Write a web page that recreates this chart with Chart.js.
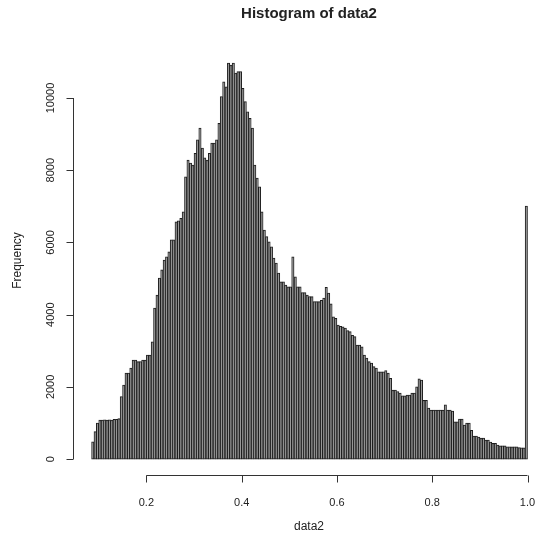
<!DOCTYPE html>
<html>
<head>
<meta charset="utf-8">
<script src="https://cdn.jsdelivr.net/npm/chart.js@4"></script>
<style>
  html, body { margin: 0; padding: 0; background: #fff; }
  #wrap { width: 538px; height: 542px; }
</style>
</head>
<body>
<div id="wrap"><canvas id="hist"></canvas></div>
<script>
// bins of width 0.005 starting at 0.085
const binStart = 0.085;
const binWidth = 0.005;
const counts = [
  480, 760, 1000, 1080, 1080, 1090, 1080, 1090, 1080, 1100,
  1100, 1120, 1730, 2050, 2380, 2380, 2520, 2740, 2740, 2700,
  2700, 2740, 2740, 2880, 2880, 3250, 4180, 4540, 5010, 5240,
  5510, 5600, 5740, 6070, 6070, 6570, 6600, 6670, 6850, 7820,
  8280, 8200, 8140, 8470, 8840, 9170, 8610, 8340, 8280, 8470,
  8750, 8750, 8840, 9300, 10040, 10450, 10310, 10970, 10910, 10970,
  10690, 10730, 10730, 10270, 9900, 9620, 9440, 9170, 8140, 7780,
  7540, 6850, 6340, 6160, 6020, 5880, 5570, 5430, 5150, 4910,
  4910, 4820, 4770, 4770, 5600, 5050, 4770, 4770, 4610, 4610,
  4540, 4500, 4500, 4360, 4360, 4360, 4400, 4460, 4760, 4600,
  4300, 3940, 3900, 3710, 3680, 3660, 3630, 3560, 3530, 3430,
  3390, 3160, 3160, 3110, 2880, 2800, 2700, 2660, 2560, 2520,
  2420, 2420, 2420, 2450, 2380, 2240, 1910, 1910, 1870, 1830,
  1750, 1750, 1770, 1770, 1830, 1830, 2000, 2220, 2190, 1630,
  1630, 1410, 1360, 1360, 1360, 1360, 1360, 1360, 1500, 1360,
  1360, 1330, 1030, 1030, 1110, 1110, 940, 1000, 1000, 800,
  640, 640, 610, 580, 580, 530, 530, 470, 440, 440,
  390, 370, 370, 370, 340, 340, 340, 340, 340, 320,
  310, 310, 7010
];
const xTicks = [0.2, 0.4, 0.6, 0.8, 1.0];
const yTicks = [0, 2000, 4000, 6000, 8000, 10000];

const points = counts.map((c, i) => ({ x: binStart + binWidth * (i + 0.5), y: c }));

const FONT = '"Liberation Sans", Arial, sans-serif';

// R-style detached axes, titles
const rAxes = {
  id: 'rAxes',
  afterDraw(chart) {
    const ctx = chart.ctx;
    const xs = chart.scales.x;
    const ys = chart.scales.y;
    const area = chart.chartArea;
    ctx.save();
    ctx.strokeStyle = '#333';
    ctx.fillStyle = '#222';
    ctx.lineWidth = 1;

    // x axis
    const xa = Math.round(area.bottom) + 0.5;
    ctx.beginPath();
    ctx.moveTo(xs.getPixelForValue(xTicks[0]), xa);
    ctx.lineTo(xs.getPixelForValue(xTicks[xTicks.length - 1]), xa);
    xTicks.forEach(t => {
      const px = Math.round(xs.getPixelForValue(t)) + 0.5;
      ctx.moveTo(px, xa);
      ctx.lineTo(px, xa + 7);
    });
    ctx.stroke();
    ctx.font = '11px ' + FONT;
    ctx.textAlign = 'center';
    ctx.textBaseline = 'middle';
    xTicks.forEach(t => {
      ctx.fillText(t.toFixed(1), xs.getPixelForValue(t), xa + 27);
    });

    // y axis
    const ya = Math.round(area.left) + 0.5;
    ctx.beginPath();
    ctx.moveTo(ya, ys.getPixelForValue(yTicks[0]));
    ctx.lineTo(ya, ys.getPixelForValue(yTicks[yTicks.length - 1]));
    yTicks.forEach(t => {
      const py = Math.round(ys.getPixelForValue(t)) + 0.5;
      ctx.moveTo(ya, py);
      ctx.lineTo(ya - 7, py);
    });
    ctx.stroke();
    yTicks.forEach(t => {
      ctx.save();
      ctx.translate(ya - 23, ys.getPixelForValue(t));
      ctx.rotate(-Math.PI / 2);
      ctx.fillText(String(t), 0, 0);
      ctx.restore();
    });

    // titles
    const midX = (area.left + 545) / 2;
    ctx.font = 'bold 15px ' + FONT;
    ctx.fillText('Histogram of data2', midX, 14);
    ctx.font = '12px ' + FONT;
    ctx.fillText('data2', midX, 527);
    ctx.save();
    ctx.translate(18, (area.top + area.bottom) / 2);
    ctx.rotate(-Math.PI / 2);
    ctx.fillText('Frequency', 0, 0);
    ctx.restore();
    ctx.restore();
  }
};

new Chart(document.getElementById('hist').getContext('2d'), {
  type: 'bar',
  data: {
    datasets: [{
      label: 'data2',
      data: points,
      backgroundColor: '#9a9a9a',
      borderColor: '#1e1e1e',
      borderWidth: 1,
      borderSkipped: false,
      barPercentage: 1,
      categoryPercentage: 1
    }]
  },
  options: {
    responsive: true,
    maintainAspectRatio: false,
    animation: false,
    layout: { padding: { left: 73, right: 0, top: 46, bottom: 67 } },
    plugins: { legend: { display: false }, tooltip: { enabled: false } },
    scales: {
      x: { type: 'linear', min: 0.046, max: 1.022, offset: false, display: false },
      y: { min: -440, max: 11440, display: false }
    }
  },
  plugins: [rAxes]
});
</script>
</body>
</html>
